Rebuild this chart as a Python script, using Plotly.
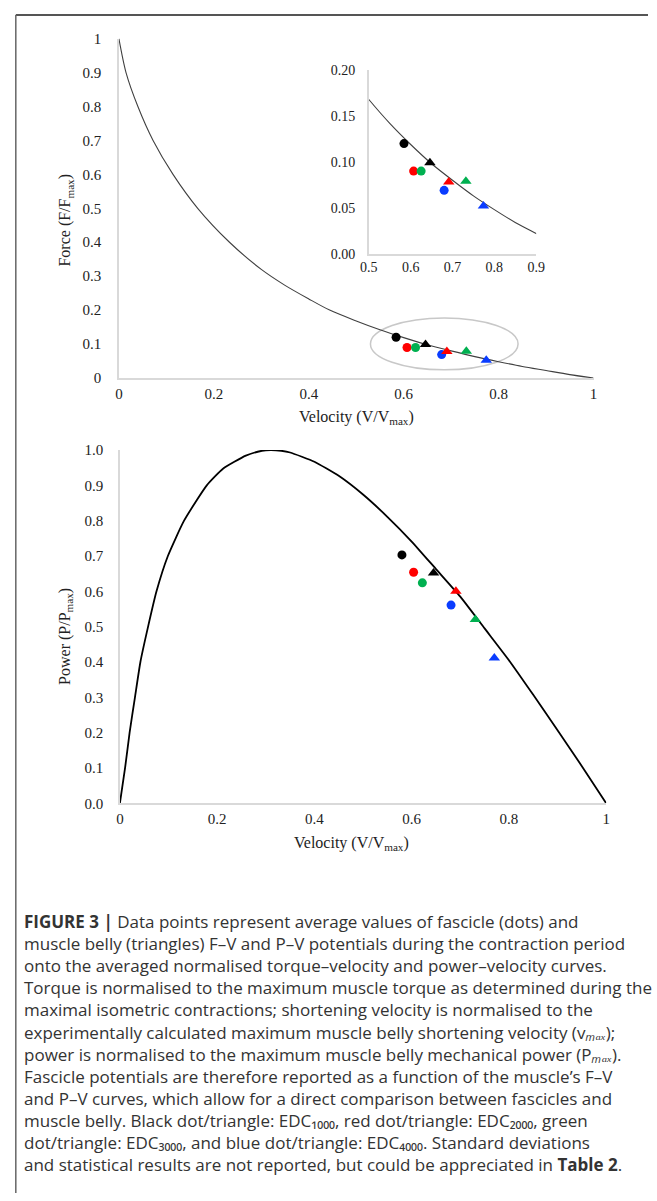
import plotly.graph_objects as go

# ---------------- data ----------------
# Force-velocity curve (normalised)
fv_velocity = [0, 0.015, 0.04, 0.072, 0.114, 0.166, 0.233, 0.30, 0.35, 0.40, 0.444, 0.50,
               0.55, 0.60, 0.65, 0.70, 0.75, 0.80, 0.85, 0.90, 0.95, 1.0]
fv_force = [1.0, 0.90, 0.80, 0.70, 0.60, 0.50, 0.40, 0.32, 0.273, 0.233, 0.20, 0.168,
            0.142, 0.119, 0.098, 0.080, 0.063, 0.048, 0.034, 0.022, 0.010, 0.0]

# Power-velocity curve (normalised)
pv_velocity = [0, 0.0107, 0.02, 0.031, 0.0422, 0.058, 0.0753, 0.0987, 0.132, 0.1787, 0.212,
               0.259, 0.292, 0.31, 0.332, 0.35, 0.40, 0.45, 0.50, 0.55, 0.60, 0.65,
               0.70, 0.75, 0.80, 0.85, 0.90, 0.95, 1.0]
pv_power = [0, 0.10, 0.20, 0.30, 0.40, 0.50, 0.60, 0.70, 0.80, 0.90, 0.947,
            0.984, 0.998, 1.0, 0.998, 0.993, 0.967, 0.927, 0.874, 0.811, 0.741, 0.663,
            0.585, 0.495, 0.405, 0.307, 0.207, 0.105, 0.0]

groups = ["EDC1000", "EDC2000", "EDC3000", "EDC4000"]

# F-V potentials
fascicle_fv_v = [0.584, 0.607, 0.625, 0.680]
fascicle_fv_f = [0.120, 0.090, 0.090, 0.069]
belly_fv_v = [0.646, 0.691, 0.732, 0.774]
belly_fv_f = [0.099, 0.078, 0.079, 0.052]

# P-V potentials
fascicle_pv_v = [0.580, 0.604, 0.622, 0.681]
fascicle_pv_p = [0.703, 0.654, 0.624, 0.561]
belly_pv_v = [0.645, 0.691, 0.731, 0.770]
belly_pv_p = [0.652, 0.600, 0.520, 0.411]

# highlighted region (ellipse) on the F-V plot
ellipse_v = [0.530, 0.841]
ellipse_f = [0.024, 0.177]

caption_lines = [
    "<b>FIGURE 3 |</b> Data points represent average values of fascicle (dots) and",
    "muscle belly (triangles) F–V and P–V potentials during the contraction period",
    "onto the averaged normalised torque–velocity and power–velocity curves.",
    "Torque is normalised to the maximum muscle torque as determined during the",
    "maximal isometric contractions; shortening velocity is normalised to the",
    "experimentally calculated maximum muscle belly shortening velocity (v<i>ₘₐₓ</i>);",
    "power is normalised to the maximum muscle belly mechanical power (P<i>ₘₐₓ</i>).",
    "Fascicle potentials are therefore reported as a function of the muscle’s F–V",
    "and P–V curves, which allow for a direct comparison between fascicles and",
    "muscle belly. Black dot/triangle: EDC₁₀₀₀, red dot/triangle: EDC₂₀₀₀, green",
    "dot/triangle: EDC₃₀₀₀, and blue dot/triangle: EDC₄₀₀₀. Standard deviations",
    "and statistical results are not reported, but could be appreciated in <b>Table 2</b>.",
]

# ---------------- style ----------------
W, H = 657, 1201
colors = ["#000000", "#ff0000", "#00b050", "#0a3cff"]
SERIF = "Liberation Serif"
AXIS_GRAY = "#d9d9d9"


def px(x):
    return x / W


def py(y):
    return 1 - y / H


fig = go.Figure()

# --- main F-V plot ---
fig.add_trace(go.Scatter(x=fv_velocity, y=fv_force, mode="lines",
                         line=dict(color="#404040", width=1.1, shape="spline", smoothing=0.8),
                         xaxis="x", yaxis="y", hoverinfo="skip"))
fig.add_trace(go.Scatter(x=fascicle_fv_v, y=fascicle_fv_f, mode="markers", text=groups,
                         marker=dict(symbol="circle", size=9, color=colors),
                         xaxis="x", yaxis="y"))
fig.add_trace(go.Scatter(x=belly_fv_v, y=belly_fv_f, mode="markers", text=groups,
                         marker=dict(symbol="triangle-up", size=10, color=colors),
                         xaxis="x", yaxis="y"))

# --- inset F-V plot ---
fig.add_trace(go.Scatter(x=fv_velocity, y=fv_force, mode="lines",
                         line=dict(color="#404040", width=1.1, shape="spline", smoothing=0.8),
                         xaxis="x2", yaxis="y2", hoverinfo="skip"))
fig.add_trace(go.Scatter(x=fascicle_fv_v, y=fascicle_fv_f, mode="markers", text=groups,
                         marker=dict(symbol="circle", size=9, color=colors),
                         xaxis="x2", yaxis="y2"))
fig.add_trace(go.Scatter(x=belly_fv_v, y=belly_fv_f, mode="markers", text=groups,
                         marker=dict(symbol="triangle-up", size=10, color=colors),
                         xaxis="x2", yaxis="y2"))

# --- P-V plot ---
fig.add_trace(go.Scatter(x=pv_velocity, y=pv_power, mode="lines",
                         line=dict(color="#000000", width=1.8, shape="spline", smoothing=0.5),
                         xaxis="x3", yaxis="y3", hoverinfo="skip"))
fig.add_trace(go.Scatter(x=fascicle_pv_v, y=fascicle_pv_p, mode="markers", text=groups,
                         marker=dict(symbol="circle", size=9, color=colors),
                         xaxis="x3", yaxis="y3"))
fig.add_trace(go.Scatter(x=belly_pv_v, y=belly_pv_p, mode="markers", text=groups,
                         marker=dict(symbol="triangle-up", size=10, color=colors),
                         xaxis="x3", yaxis="y3"))

tickfont = dict(family=SERIF, size=15, color="#222222")
insetfont = dict(family=SERIF, size=14, color="#222222")
common = dict(showgrid=False, zeroline=False, showline=True, linecolor=AXIS_GRAY,
              linewidth=1.5, ticks="", fixedrange=True)

fig.update_layout(
    width=W, height=H,
    margin=dict(l=0, r=0, t=0, b=0),
    paper_bgcolor="white", plot_bgcolor="rgba(0,0,0,0)",
    showlegend=False,
    xaxis=dict(domain=[px(113), px(601)], range=[0, 1], dtick=0.2, tick0=0,
               anchor="y", tickfont=tickfont, ticklabelstandoff=1, **common),
    yaxis=dict(domain=[py(375), py(31)], range=[0, 1], dtick=0.1, tick0=0,
               anchor="x", tickfont=tickfont, ticklabelstandoff=13, **common),
    xaxis2=dict(domain=[px(370), px(542)], range=[0.5, 0.9], dtick=0.1, tick0=0.5,
                tickformat=".1f", anchor="y2", tickfont=insetfont, ticklabelstandoff=0, **common),
    yaxis2=dict(domain=[py(249), py(63)], range=[0, 0.2], dtick=0.05, tick0=0,
                tickformat=".2f", anchor="x2", tickfont=insetfont, ticklabelstandoff=9, **common),
    xaxis3=dict(domain=[px(114), px(614)], range=[0, 1], dtick=0.2, tick0=0,
                anchor="y3", tickfont=tickfont, ticklabelstandoff=1, **common),
    yaxis3=dict(domain=[py(806), py(448)], range=[0, 1], dtick=0.1, tick0=0,
                tickformat=".1f", anchor="x3", tickfont=tickfont, ticklabelstandoff=12, **common),
)

# ellipse highlighting the region shown in the inset
fig.add_shape(type="circle", xref="x", yref="y",
              x0=ellipse_v[0], x1=ellipse_v[1], y0=ellipse_f[0], y1=ellipse_f[1],
              line=dict(color="#c8c8c8", width=1.5), layer="below")

# page frame lines (top and left)
fig.add_shape(type="line", xref="paper", yref="paper", x0=px(7), x1=1, y0=py(7), y1=py(7),
              line=dict(color="#555555", width=2))
fig.add_shape(type="line", xref="paper", yref="paper", x0=px(7), x1=px(7), y0=py(7), y1=0,
              line=dict(color="#666666", width=1.5))

titlefont = dict(family=SERIF, size=16, color="#222222")
axis_titles = [
    ("Force (F/F<sub>max</sub>)", 58, 215, -90),
    ("Velocity (V/V<sub>max</sub>)", 357, 415, 0),
    ("Power (P/P<sub>max</sub>)", 58, 637, -90),
    ("Velocity (V/V<sub>max</sub>)", 352, 847, 0),
]
for txt, x, y, ang in axis_titles:
    fig.add_annotation(text=txt, x=px(x), y=py(y), xref="paper", yref="paper",
                       showarrow=False, textangle=ang, font=titlefont,
                       xanchor="center", yanchor="middle")

# caption as one text block
capfont = dict(family="Open Sans", size=17, color="#333333")
fig.add_annotation(text="<br>".join(caption_lines), x=px(13), y=py(926 + 22.4 * 5.5),
                   xref="paper", yref="paper", showarrow=False, font=capfont,
                   xanchor="left", yanchor="middle", align="left")

fig.write_html("out.html")
